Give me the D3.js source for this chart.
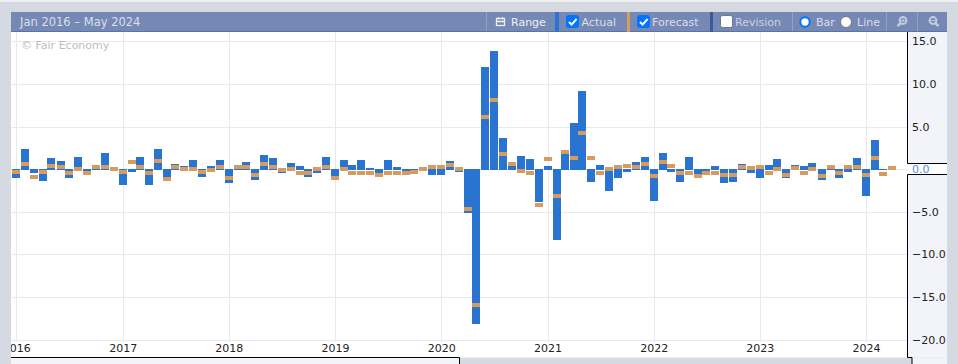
<!DOCTYPE html>
<html>
<head>
<meta charset="utf-8">
<script src="https://cdn.jsdelivr.net/npm/d3@7"></script>
<style>
html, body { margin: 0; padding: 0; background: #fff; overflow: hidden; }
svg { display: block; }
text { font-family: "DejaVu Sans", sans-serif; }
</style>
</head>
<body>
<svg id="chart" width="958" height="364"></svg>
<script>
const months = d3.utcMonths(new Date(Date.UTC(2016, 0, 1)), new Date(Date.UTC(2024, 4, 1)))

// one value per month, Jan 2016 to Apr 2024 (null = not released yet)
const actual = [
    -1.0, 2.4, -0.4, -1.35, 1.35, 1.0, -1.0, 1.45, -0.3, 0.1, 1.9, 0.05,
    -1.9, -0.3, 1.45, -1.8, 2.4, -0.9, 0.65, 0.4, 1.1, -0.9, 0.4, 1.1,
    -1.6, 0.1, 0.9, -1.25, 1.7, 1.35, -0.5, 0.75, 0.4, -0.9, -0.5, 1.45,
    -1.25, 1.1, 0.5, 1.1, 0.1, -0.9, 1.1, 0.3, -0.2, -0.1, 0.05, -0.65,
    -0.65, 1.0, -0.3, -5.1, -18.1, 12.0, 13.9, 3.65, 0.4, 1.55, 1.2, -3.85,
    0.4, -8.3, 1.8, 5.4, 9.2, -1.5, 0.5, -2.5, -1.0, -0.35, 0.85, 1.45,
    -3.7, 1.9, -0.3, -1.45, 1.45, -1.0, -0.2, 0.4, -1.6, -1.45, 0.65, -0.4,
    -1.0, 0.5, 1.2, -1.0, 0.5, 0.4, 0.75, -1.25, 0.05, -1.0, -0.3, 1.35,
    -3.2, 3.45, -0.05, null
]
const forecast = [
    -0.3, 0.65, -0.9, -0.3, 0.4, 0.2, -0.5, 0.0, -0.5, 0.2, 0.3, 0.05,
    -0.3, 0.9, 0.3, -0.4, 1.0, -1.1, 0.3, 0.05, 0.05, -0.3, -0.05, 0.3,
    -1.0, 0.3, 0.3, -0.65, 0.65, 0.3, -0.05, 0.05, -0.4, -0.5, 0.05, 0.2,
    -1.0, 0.05, -0.5, -0.4, -0.4, -0.65, -0.4, -0.4, -0.4, -0.3, 0.05, 0.2,
    0.3, 0.5, 0.05, -4.65, -15.9, 6.1, 8.1, 1.8, 0.6, -0.2, -0.45, -4.2,
    1.2, -3.1, 2.05, 1.35, 4.25, 1.35, -0.45, 0.05, 0.25, 0.4, 0.3, 0.65,
    -0.75, 0.85, 0.4, -0.4, -0.4, -0.75, -0.4, -0.4, -0.65, -0.65, 0.3, 0.15,
    0.3, -0.4, 0.05, -0.65, 0.15, -0.4, 0.05, -0.75, 0.3, -0.4, 0.3, 0.3,
    -0.65, 1.35, -0.55, 0.15
]
const yTicks = [15, 10, 5, 0, -5, -10, -15, -20]
const headerTitle = 'Jan 2016 – May 2024'
const watermark = '© Fair Economy'

const svg = d3.select('#chart')

const x = d3.scaleUtc()
    .domain([new Date(Date.UTC(2016, 0, 1)), new Date(Date.UTC(2024, 0, 1))])
    .range([16.3, 866])
const y = d3.scaleLinear()
    .domain([15, -20])
    .range([41.3, 339.7])

const left = 11, right = 907.5, top_ = 32, bottom = 357.5, outerRight = 947
const barW = 8

// outer frame
svg.append('rect').attr('width', 958).attr('height', 364).attr('fill', '#d5d9e2')
svg.append('rect').attr('width', 958).attr('height', 2).attr('fill', '#eceef2')
svg.append('rect').attr('x', left).attr('y', top_).attr('width', right - left).attr('height', bottom - top_).attr('fill', '#fff')
svg.append('rect').attr('x', right).attr('y', top_).attr('width', outerRight - right).attr('height', bottom - top_).attr('fill', '#f2f4fa')
svg.append('rect').attr('x', 912).attr('y', bottom).attr('width', outerRight - 912).attr('height', 7).attr('fill', '#f2f4fa')
svg.append('rect').attr('x', left).attr('y', bottom).attr('width', 448).attr('height', 7).attr('fill', '#f2f4fa')

// grid
const plot = svg.append('g')
plot.append('g').selectAll('line').data(yTicks).join('line')
    .attr('x1', left).attr('x2', right)
    .attr('y1', d => Math.round(y(d)) + 0.5).attr('y2', d => Math.round(y(d)) + 0.5)
    .attr('stroke', '#e7e8f0')
const years = d3.utcYears(new Date(Date.UTC(2016, 0, 1)), new Date(Date.UTC(2025, 0, 1)))
plot.append('g').selectAll('line').data(years).join('line')
    .attr('x1', d => Math.round(x(d)) + 0.5).attr('x2', d => Math.round(x(d)) + 0.5)
    .attr('y1', top_).attr('y2', y(-20) + 2)
    .attr('stroke', '#e7e8f0')

// watermark
svg.append('text').attr('x', 21).attr('y', 49).attr('font-size', 11).attr('fill', '#bdbdbd').text(watermark)

// actual bars
const rows = months.map((m, i) => ({ date: m, actual: actual[i], forecast: forecast[i] }))
plot.append('g').selectAll('rect').data(rows.filter(d => d.actual !== null)).join('rect')
    .attr('x', d => Math.round(x(d.date) - barW / 2))
    .attr('width', barW)
    .attr('y', d => d.actual >= 0 ? Math.round(y(d.actual)) : 169)
    .attr('height', d => d.actual >= 0 ? 170 - Math.round(y(d.actual)) : Math.max(1, Math.round(y(d.actual)) - 169))
    .attr('fill', '#2874d0')

// forecast markers
plot.append('g').selectAll('rect').data(rows).join('rect')
    .attr('x', d => Math.round(x(d.date) - barW / 2))
    .attr('width', barW)
    .attr('y', d => Math.round(y(d.forecast)) - 2)
    .attr('height', 4)
    .attr('fill', '#d59b5f')

// x axis labels, clipped at the left edge of the plot
svg.append('clipPath').attr('id', 'plot-clip').append('rect')
    .attr('x', left).attr('y', top_).attr('width', right - left).attr('height', bottom - top_)
const xAxis = d3.axisBottom(x).tickValues(years.filter(d => x(d) < 900)).tickFormat(d3.utcFormat('%Y')).tickSize(0).tickPadding(0)
const xg = svg.append('g').attr('clip-path', 'url(#plot-clip)').append('g').attr('transform', 'translate(0,345)').call(xAxis)
xg.select('.domain').remove()
xg.selectAll('text').attr('y', 0).attr('dy', '0.6em').attr('font-size', 11).attr('font-family', '"DejaVu Sans", sans-serif').attr('fill', '#222')

// white box behind the zero label, with a gap in the axis line
svg.append('rect').attr('x', right).attr('y', 163.5).attr('width', outerRight - right).attr('height', 11).attr('fill', '#fff')

// y axis labels
const yAxis = d3.axisRight(y).tickValues(yTicks).tickFormat(d3.format('.1f')).tickSize(0).tickPadding(0)
const yg = svg.append('g').attr('transform', 'translate(912,0)').call(yAxis)
yg.select('.domain').remove()
yg.selectAll('text').attr('font-size', 11).attr('font-family', '"DejaVu Sans", sans-serif')
    .attr('fill', d => d === 0 ? '#4a8fdc' : '#222').attr('x', d => d < 0 ? 0 : 0)

// frame lines
const frame = svg.append('g').attr('stroke', '#000').attr('fill', 'none')
frame.append('path').attr('d', `M${outerRight},163.5H${right}V32M${outerRight},174.5H${right}V357.5H${right + 4.5}V364M${left},357.5H459.5V364`)

// header
const header = svg.append('g')
header.append('rect').attr('x', left).attr('y', 12).attr('width', outerRight - left).attr('height', 20).attr('fill', '#7589b4')
header.append('rect').attr('x', left).attr('y', 31).attr('width', outerRight - left).attr('height', 1).attr('fill', '#5873a8')
header.append('text').attr('x', 20).attr('y', 26).attr('font-size', 11.5).attr('fill', '#d9dfec').text(headerTitle)

const separators = [486.5, 792.5, 886.5, 917.5]
header.selectAll('line.sep').data(separators).join('line').attr('class', 'sep')
    .attr('x1', d => d).attr('x2', d => d).attr('y1', 12).attr('y2', 31).attr('stroke', '#91a2c6')
const swatches = [[555, 4, '#2874d0'], [627, 3, '#d59b5f'], [710, 3, '#3b5a98']]
header.selectAll('rect.swatch').data(swatches).join('rect').attr('class', 'swatch')
    .attr('x', d => d[0]).attr('y', 12).attr('width', d => d[1]).attr('height', 20).attr('fill', d => d[2])

const labels = [['Range', 511, '#eef1f7'], ['Actual', 581.5, '#d9dfec'], ['Forecast', 652, '#d9dfec'], ['Revision', 735, '#c9d1e2'], ['Bar', 816, '#d9dfec'], ['Line', 857, '#d9dfec']]
header.selectAll('text.lab').data(labels).join('text').attr('class', 'lab')
    .attr('x', d => d[1]).attr('y', 26).attr('font-size', 11).attr('fill', d => d[2]).text(d => d[0])

// calendar icon
const cal = header.append('g').attr('fill', 'none').attr('stroke', '#eef1f7').attr('stroke-width', 1.3).attr('transform', 'translate(496,16)')
cal.append('rect').attr('x', 0.5).attr('y', 2.5).attr('width', 8).attr('height', 7)
cal.append('path').attr('d', 'M0.5,5.5H8.5M2.5,1V3.5M6.5,1V3.5')

// checkboxes
const boxes = [[566, true], [637, true], [720, false]]
boxes.forEach(([bx, on]) => {
    header.append('rect').attr('x', bx + 0.5).attr('y', 15.5).attr('width', 12).attr('height', 12).attr('rx', 2)
        .attr('fill', on ? '#0075ff' : '#fff').attr('stroke', on ? '#0075ff' : '#767676')
    if (on) header.append('path').attr('d', `M${bx + 3},22l2.6,2.6l5,-5.6`).attr('fill', 'none').attr('stroke', '#fff').attr('stroke-width', 2)
})

// radios
header.append('circle').attr('cx', 805).attr('cy', 22).attr('r', 4.7).attr('fill', '#fff').attr('stroke', '#0075ff').attr('stroke-width', 2)
header.append('circle').attr('cx', 846).attr('cy', 22).attr('r', 5.5).attr('fill', '#fff').attr('stroke', '#767676').attr('stroke-width', 1)

// zoom icons
const mags = [[903, true], [933, false]]
mags.forEach(([mx, plus]) => {
    const g = header.append('g').attr('transform', `translate(${mx},20.5)`).attr('fill', 'none').attr('stroke', '#c3cde0')
    g.append('circle').attr('r', 3.4).attr('stroke-width', 2)
    g.append('path').attr('d', plus ? 'M-2.6,2.8L-5.5,5.6' : 'M2.6,2.8L5.5,5.6').attr('stroke-width', 2.5)
    g.append('path').attr('d', plus ? 'M-1.8,0H1.8M0,-1.8V1.8' : 'M-1.8,0H1.8').attr('stroke-width', 1)
})
</script>
</body>
</html>
